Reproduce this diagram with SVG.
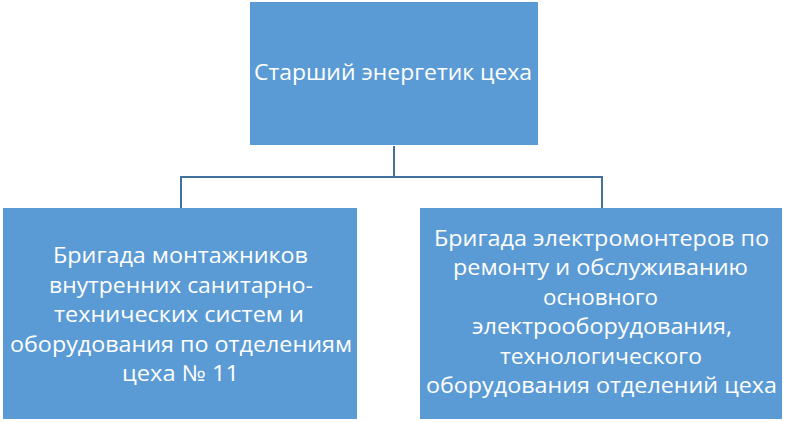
<svg xmlns="http://www.w3.org/2000/svg" width="789" height="422" viewBox="0 0 789 422">
<style>
.box{fill:#5B9BD5;}
.t{font-family:"Open Sans","Liberation Sans",sans-serif;font-size:22px;fill:#FFFFFF;text-anchor:middle;}
.c{fill:none;stroke:#41719C;stroke-width:2;}
</style>
<rect width="789" height="422" fill="#FFFFFF"/>
<g id="connectors">
<path class="c" d="M394,146 V177 M181,177 H602 M181,176 V208 M602,176 V208"/>
</g>
<g id="node-top">
<rect class="box" x="250" y="2" width="288" height="143"/>
<text class="t" x="393" y="79.5" textLength="278" lengthAdjust="spacingAndGlyphs">Старший энергетик цеха</text>
</g>
<g id="node-left">
<rect class="box" x="3" y="208" width="354" height="211"/>
<text class="t" x="180.5" y="263" textLength="255" lengthAdjust="spacingAndGlyphs">Бригада монтажников</text>
<text class="t" x="181" y="292.5" textLength="264" lengthAdjust="spacingAndGlyphs">внутренних санитарно-</text>
<text class="t" x="179" y="322" textLength="250" lengthAdjust="spacingAndGlyphs">технических систем и</text>
<text class="t" x="181" y="351.5" textLength="342" lengthAdjust="spacingAndGlyphs">оборудования по отделениям</text>
<text class="t" x="180.5" y="381" textLength="117" lengthAdjust="spacingAndGlyphs">цеха № 11</text>
</g>
<g id="node-right">
<rect class="box" x="420" y="208" width="362" height="211"/>
<text class="t" x="601.5" y="245.5" textLength="335" lengthAdjust="spacingAndGlyphs">Бригада электромонтеров по</text>
<text class="t" x="600.5" y="275" textLength="295" lengthAdjust="spacingAndGlyphs">ремонту и обслуживанию</text>
<text class="t" x="600.5" y="304.5" textLength="115" lengthAdjust="spacingAndGlyphs">основного</text>
<text class="t" x="602" y="334" textLength="260" lengthAdjust="spacingAndGlyphs">электрооборудования,</text>
<text class="t" x="601" y="363.5" textLength="202" lengthAdjust="spacingAndGlyphs">технологического</text>
<text class="t" x="601.5" y="393" textLength="351" lengthAdjust="spacingAndGlyphs">оборудования отделений цеха</text>
</g>
</svg>
